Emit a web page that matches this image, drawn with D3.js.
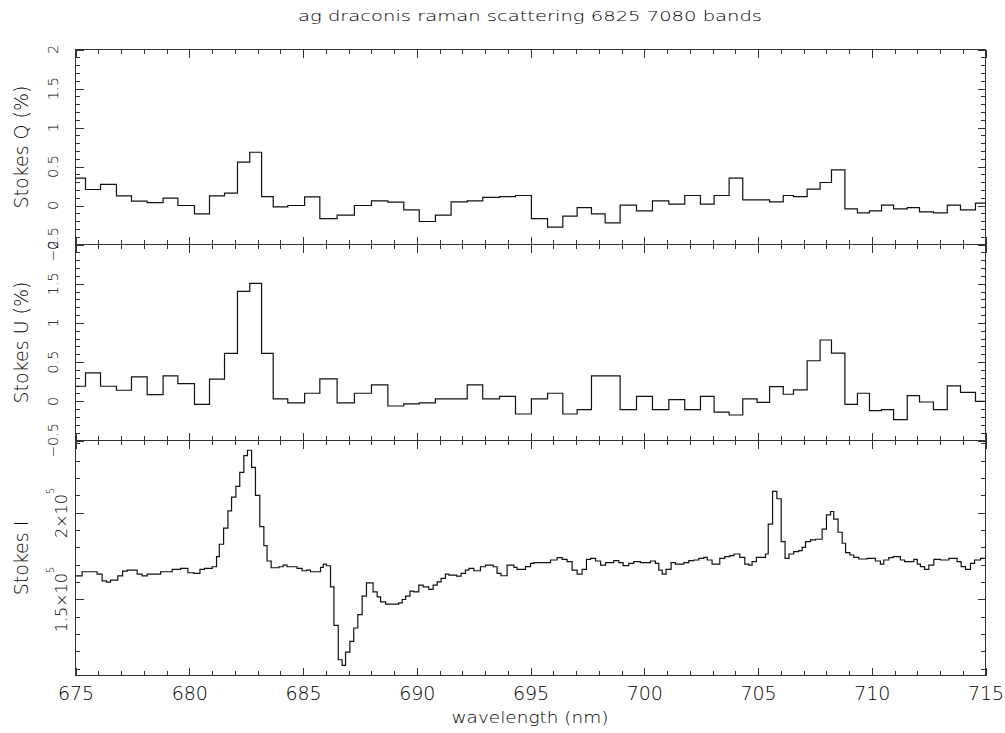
<!DOCTYPE html>
<html><head><meta charset="utf-8">
<script src="https://cdn.jsdelivr.net/npm/d3@7"></script>
<style>
body{margin:0;background:#fff;}
svg{display:block;}
text{font-family:"DejaVu Sans",sans-serif;font-weight:200;fill:#000;}
</style>
</head><body>
<svg id="c" width="1005" height="733"></svg>
<script>
// ---------------- data ----------------
const titleText = "ag draconis raman scattering 6825 7080 bands";
const xLabel = "wavelength (nm)";
const panelLabels = ["Stokes Q (%)", "Stokes U (%)", "Stokes I"];
const xTicks = [675, 680, 685, 690, 695, 700, 705, 710, 715];
const polTicks = [2, 1.5, 1, 0.5, 0, -0.5];
const iTicks = [150000, 200000];

// left edge (nm) of each polarisation bin (shared by Q and U)
const polBinStarts = [675.00, 675.44, 676.10, 676.80, 677.46, 678.15, 678.85, 679.50, 680.23, 680.89,
  681.55, 682.12, 682.66, 683.18, 683.69, 684.33, 685.07, 685.74, 686.50, 687.26,
  688.01, 688.73, 689.43, 690.11, 690.82, 691.51, 692.22, 692.90, 693.64, 694.34,
  695.04, 695.75, 696.42, 697.05, 697.68, 698.28, 698.94, 699.66, 700.36, 701.08,
  701.78, 702.47, 703.07, 703.73, 704.33, 704.96, 705.51, 706.11, 706.56, 707.16,
  707.73, 708.23, 708.82, 709.37, 709.90, 710.43, 710.96, 711.56, 712.10, 712.71,
  713.32, 713.90, 714.56];
const stokesQ = [0.35, 0.205, 0.27, 0.124, 0.055, 0.038, 0.094, 0, -0.107, 0.124,
  0.158, 0.555, 0.683, 0.115, -0.017, 0, 0.111, -0.167, -0.124, 0,
  0.06, 0.043, -0.055, -0.205, -0.124, 0.047, 0.06, 0.103, 0.115, 0.128,
  -0.167, -0.278, -0.137, -0.026, -0.107, -0.222, 0.004, -0.068, 0.06, 0.017,
  0.128, 0.017, 0.128, 0.35, 0.073, 0.073, 0.047, 0.128, 0.115, 0.209,
  0.295, 0.457, -0.043, -0.094, -0.068, 0.004, -0.043, -0.026, -0.081, -0.094,
  0.004, -0.055, 0.03];
const stokesU = [0.192, 0.363, 0.192, 0.141, 0.312, 0.085, 0.325, 0.226, -0.038, 0.282,
  0.611, 1.402, 1.504, 0.611, 0.030, -0.021, 0.103, 0.286, -0.021, 0.103,
  0.209, -0.060, -0.034, -0.021, 0.030, 0.030, 0.209, 0.030, 0.064, -0.162,
  0.030, 0.103, -0.162, -0.107, 0.325, 0.325, -0.107, 0.064, -0.107, 0.021,
  -0.107, 0.064, -0.137, -0.175, 0.030, -0.013, 0.188, 0.090, 0.145, 0.517,
  0.782, 0.615, -0.038, 0.103, -0.120, -0.107, -0.235, 0.073, -0.009, -0.107,
  0.197, 0.115, 0.0];

// left edge (nm) of each intensity bin
const iBinStarts = [675.00, 675.29, 675.95, 676.17, 676.36, 676.54, 676.86, 677.07, 677.27, 677.71,
  677.93, 678.15, 678.74, 679.25, 679.62, 679.94, 680.20, 680.47, 680.67, 681.01,
  681.20, 681.32, 681.51, 681.70, 681.86, 682.05, 682.22, 682.40, 682.56, 682.74,
  682.91, 683.10, 683.28, 683.42, 683.60, 683.94, 684.13, 684.30, 684.74, 684.96,
  685.15, 685.33, 685.77, 685.89, 686.03, 686.21, 686.36, 686.55, 686.72, 686.87,
  687.06, 687.23, 687.41, 687.60, 687.79, 688.08, 688.26, 688.41, 688.63, 689.21,
  689.36, 689.51, 689.70, 689.87, 690.09, 690.28, 690.53, 690.72, 690.90, 691.07,
  691.26, 691.41, 691.75, 691.95, 692.14, 692.29, 692.51, 692.80, 693.02, 693.36,
  693.53, 693.70, 693.97, 694.27, 694.41, 694.78, 695.00, 695.15, 695.88, 696.17,
  696.39, 696.61, 696.83, 697.05, 697.27, 697.46, 697.64, 697.86, 698.08, 698.30,
  698.66, 698.88, 699.07, 699.32, 699.54, 699.83, 700.27, 700.49, 700.64, 700.79,
  700.96, 701.18, 701.37, 701.74, 701.96, 702.18, 702.40, 702.62, 702.77, 702.98,
  703.32, 703.54, 703.76, 703.94, 704.20, 704.42, 704.60, 704.74, 704.93, 705.33,
  705.45, 705.64, 705.83, 706.02, 706.19, 706.36, 706.57, 706.79, 706.94, 707.09,
  707.31, 707.53, 707.82, 708.01, 708.19, 708.33, 708.52, 708.70, 708.85, 709.04,
  709.21, 709.43, 709.80, 710.16, 710.38, 710.53, 710.75, 710.94, 711.26, 711.44,
  711.85, 712.00, 712.14, 712.32, 712.51, 712.73, 713.02, 713.39, 713.75, 713.93,
  714.12, 714.34, 714.52, 714.78];
const stokesI = [163670, 165990, 164660, 160780, 160020, 161180, 163670, 166400, 166970, 164660,
  163670, 164660, 165990, 167380, 167960, 165410, 165060, 167380, 167960, 168890,
  174680, 181860, 191140, 201160, 209100, 215240, 223350, 233030, 236100, 226250,
  210020, 192060, 181050, 172190, 168310, 168890, 169870, 168890, 167960, 166570,
  166970, 165990, 168540, 170450, 169470, 157300, 135110, 115230, 111930, 119640,
  125840, 133540, 141310, 151910, 159620, 154400, 151500, 148610, 147270, 148030,
  150000, 151910, 154810, 154400, 158280, 157300, 155790, 158280, 160200, 162160,
  164660, 164080, 163500, 165060, 166970, 167960, 166570, 168890, 169870, 168890,
  165060, 163690, 169870, 168520, 167360, 168900, 170840, 171220, 172770, 174120,
  173160, 171800, 166970, 164660, 167360, 173160, 173740, 172190, 169870, 171220,
  172380, 171220, 169480, 170840, 171800, 171220, 172190, 170840, 166970, 164660,
  167360, 171220, 170450, 171220, 172380, 172770, 173740, 174310, 172770, 170450,
  173740, 174700, 175280, 176250, 174310, 170450, 169870, 171800, 174310, 176250,
  193430, 212360, 208110, 183390, 173740, 176250, 177600, 178180, 180110, 183390,
  184360, 184740, 190540, 198840, 200770, 196330, 188800, 182430, 177020, 175670,
  174310, 173350, 173740, 172190, 170450, 172770, 174120, 174700, 172770, 171800,
  173160, 170450, 168900, 167360, 169870, 173160, 172770, 173740, 171800, 168900,
  167360, 170840, 172770, 173740];

const xDomain = [675, 715];
const polDomain = [-0.5, 2];
const iDomain = [106140, 241720];

// ---------------- drawing ----------------
const svg = d3.select("#c");
const L = 75.5, R = 985.5;
const x = d3.scaleLinear().domain(xDomain).range([L, R]);

const panels = [
  {label: panelLabels[0], top: 49.5, bottom: 244.5, domain: polDomain, starts: polBinStarts, vals: stokesQ,
   ticks: polTicks, minor: d3.range(-5, 21).map(i => i / 10), kind: "pol"},
  {label: panelLabels[1], top: 244.5, bottom: 440.5, domain: polDomain, starts: polBinStarts, vals: stokesU,
   ticks: polTicks, minor: d3.range(-5, 21).map(i => i / 10), kind: "pol"},
  {label: panelLabels[2], top: 440.5, bottom: 675.5, domain: iDomain, starts: iBinStarts, vals: stokesI,
   ticks: iTicks, minor: d3.range(11, 25).map(i => i * 1e4), kind: "int"}
];

const xMinor = d3.range(675, 716, 1);
const AX = "#333";

function styleAxis(g) {
  g.select(".domain").remove();
  g.selectAll(".tick line").attr("stroke", AX).attr("shape-rendering", "crispEdges");
}

panels.forEach((p, pi) => {
  const y = d3.scaleLinear().domain(p.domain).range([p.bottom, p.top]);
  const g = svg.append("g");

  // frame
  g.append("rect").attr("x", L).attr("y", p.top).attr("width", R - L).attr("height", p.bottom - p.top)
    .attr("fill", "none").attr("stroke", AX).attr("stroke-width", 1).attr("shape-rendering", "crispEdges");

  // x ticks (top and bottom, inward)
  [[xMinor, 4.5], [xTicks, 8]].forEach(([vals, size]) => {
    g.append("g").attr("transform", `translate(0,${p.top})`)
      .call(d3.axisTop(x).tickValues(vals).tickSizeInner(-size).tickSizeOuter(0).tickFormat(() => ""))
      .call(styleAxis);
    const isLabelled = (pi === 2 && size === 8);
    const b = g.append("g").attr("transform", `translate(0,${p.bottom})`)
      .call(d3.axisBottom(x).tickValues(vals).tickSizeInner(-size).tickSizeOuter(0)
        .tickPadding(11.5).tickFormat(isLabelled ? d3.format("d") : () => ""))
      .call(styleAxis);
    if (isLabelled) {
      b.selectAll("text").attr("font-family", "DejaVu Sans, sans-serif").attr("font-size", 19)
        .attr("font-weight", 200).attr("fill", "#000");
    }
  });

  // y ticks (left and right, inward)
  [[p.minor, 4.5], [p.ticks, 8]].forEach(([vals, size]) => {
    g.append("g").attr("transform", `translate(${L},0)`)
      .call(d3.axisLeft(y).tickValues(vals).tickSizeInner(-size).tickSizeOuter(0).tickFormat(() => ""))
      .call(styleAxis);
    g.append("g").attr("transform", `translate(${R},0)`)
      .call(d3.axisRight(y).tickValues(vals).tickSizeInner(-size).tickSizeOuter(0).tickFormat(() => ""))
      .call(styleAxis);
  });

  // rotated y tick labels
  if (p.kind === "pol") {
    p.ticks.forEach(t => {
      g.append("text")
        .attr("transform", `translate(57.5,${y(t)}) rotate(-90)`)
        .attr("text-anchor", "middle").attr("font-size", 14.5)
        .text(t < 0 ? "\u2212" + Math.abs(t) : String(t));
    });
  } else {
    p.ticks.forEach(t => {
      const tx = g.append("text")
        .attr("transform", `translate(67,${y(t)}) rotate(-90)`)
        .attr("text-anchor", "middle").attr("font-size", 16);
      tx.append("tspan").text(String(t / 1e5) + "\u00d710");
      tx.append("tspan").attr("dy", -13.5).attr("font-size", 10).text("5");
    });
  }

  // axis title
  g.append("text")
    .attr("transform", `translate(27.5,${(p.top + p.bottom) / 2}) rotate(-90)`)
    .attr("text-anchor", "middle").attr("font-size", 19)
    .text(p.label);

  // histogram data
  const pts = p.starts.map((s, i) => [s, p.vals[i]]);
  pts.push([xDomain[1], p.vals[p.vals.length - 1]]);
  const line = d3.line().x(d => x(d[0])).y(d => y(d[1])).curve(d3.curveStepAfter);
  g.append("path").datum(pts).attr("d", line)
    .attr("fill", "none").attr("stroke", "#111").attr("stroke-width", 1.2);
});

// title and x label
svg.append("text").attr("x", 530).attr("y", 21).attr("text-anchor", "middle")
  .attr("font-size", 14.5).attr("textLength", 464).attr("lengthAdjust", "spacingAndGlyphs")
  .text(titleText);
svg.append("text").attr("x", 530).attr("y", 723).attr("text-anchor", "middle")
  .attr("font-size", 15).attr("textLength", 157).attr("lengthAdjust", "spacingAndGlyphs")
  .text(xLabel);
</script>
</body></html>
